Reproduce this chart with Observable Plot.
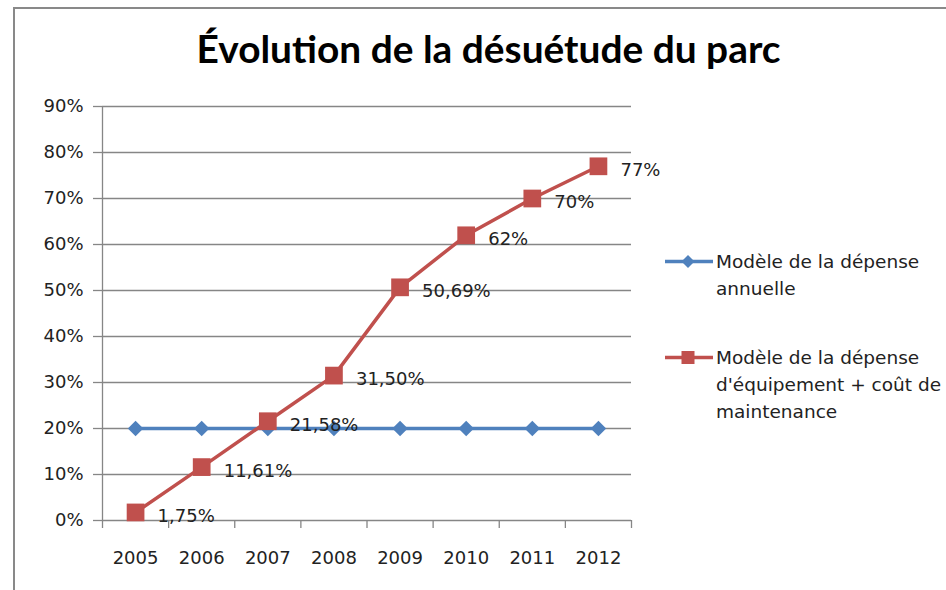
<!DOCTYPE html>
<html>
<head>
<meta charset="utf-8">
<script src="https://cdn.jsdelivr.net/npm/d3@7"></script>
<script src="https://cdn.jsdelivr.net/npm/@observablehq/plot@0.6"></script>
<style>
  body { margin: 0; background: #fff; }
  #wrap { position: relative; width: 946px; height: 590px; overflow: hidden; background: #fff; font-family: "DejaVu Sans", sans-serif; color: #222; }
  #frame { position: absolute; left: 13px; top: 7px; width: 1000px; height: 700px; border-top: 2px solid #898989; border-left: 2px solid #898989; }
  #title { position: absolute; left: 0; top: 26px; width: 977px; text-align: center; font-family: "Lato", sans-serif; font-weight: bold; font-size: 38px; line-height: 44px; color: #000; white-space: nowrap; }
  #title span { display: inline-block; transform-origin: center; }
  #chart { position: absolute; left: 0; top: 90px; }
  .leg { position: absolute; left: 664px; }
  .leg svg { position: absolute; left: 0; top: 0; }
  .leg div { position: absolute; left: 52px; top: 0; font-size: 18.5px; line-height: 27px; white-space: nowrap; color: #222; }
</style>
</head>
<body>
<div id="wrap">
  <div id="frame"></div>
  <div id="title"><span id="titleText"></span></div>
  <div id="chart"></div>
  <div id="legend"></div>
</div>
<script>
// ---- data ----
const titleText = "Évolution de la désuétude du parc";
const years = [2005, 2006, 2007, 2008, 2009, 2010, 2011, 2012];
const depenseAnnuelle = [0.20, 0.20, 0.20, 0.20, 0.20, 0.20, 0.20, 0.20];
const depenseEquipement = [0.0175, 0.1161, 0.2158, 0.3150, 0.5069, 0.62, 0.70, 0.77];
const equipementLabels = ["1,75%", "11,61%", "21,58%", "31,50%", "50,69%", "62%", "70%", "77%"];
const yTicks = [0, 0.1, 0.2, 0.3, 0.4, 0.5, 0.6, 0.7, 0.8, 0.9];
const yTickLabels = ["0%", "10%", "20%", "30%", "40%", "50%", "60%", "70%", "80%", "90%"];
const seriesNames = [
  ["Modèle de la dépense", "annuelle"],
  ["Modèle de la dépense", "d'équipement + coût de", "maintenance"]
];
const seriesColors = ["#4F81BD", "#C0504D"];

// ---- build ----
const rows = years.map((year, i) => ({
  year,
  annuelle: depenseAnnuelle[i],
  equipement: depenseEquipement[i],
  label: equipementLabels[i]
}));
const boundaries = d3.range(years.length + 1).map(i => years[0] - 0.5 + i);
const gridColor = "#868686";

const chart = Plot.plot({
  width: 946,
  height: 500,
  marginTop: 16,
  marginBottom: 70,
  marginLeft: 102,
  marginRight: 315,
  style: { fontFamily: "DejaVu Sans, sans-serif", fontSize: "18px", color: "#222", background: "transparent", overflow: "visible" },
  x: { domain: [boundaries[0], boundaries[boundaries.length - 1]] },
  y: { domain: [0, 0.9] },
  marks: [
    Plot.ruleY(yTicks, { stroke: gridColor, strokeWidth: 1.3 }),
    Plot.ruleX([boundaries[0]], { stroke: gridColor, strokeWidth: 1.3 }),
    Plot.axisY({ ticks: yTicks, tickFormat: (d, i) => yTickLabels[i], tickSize: 9, tickPadding: 10, stroke: gridColor, strokeWidth: 1.3, label: null, fill: "#222" }),
    Plot.axisX({ ticks: boundaries, tickFormat: () => "", tickSize: 8, stroke: gridColor, strokeWidth: 1.3, label: null }),
    Plot.axisX({ ticks: years, tickFormat: d => String(d), tickSize: 0, tickPadding: 31, label: null, fill: "#222" }),
    Plot.line(rows, { x: "year", y: "annuelle", stroke: seriesColors[0], strokeWidth: 3.5 }),
    Plot.dot(rows, { x: "year", y: "annuelle", symbol: "diamond2", r: 7, fill: seriesColors[0], stroke: "none" }),
    Plot.line(rows, { x: "year", y: "equipement", stroke: seriesColors[1], strokeWidth: 3.5 }),
    Plot.dot(rows, { x: "year", y: "equipement", symbol: "square", r: 10, fill: seriesColors[1], stroke: "none" }),
    Plot.text(rows, { x: "year", y: "equipement", text: "label", dx: 22, dy: 4, textAnchor: "start", fill: "#222", fontSize: 18 })
  ]
});
document.getElementById("chart").appendChild(chart);

// ---- title ----
const tt = document.getElementById("titleText");
tt.textContent = titleText;
const tw = tt.getBoundingClientRect().width;
tt.style.transform = `scaleX(${584 / tw})`;

// ---- legend ----
const legend = document.getElementById("legend");
const legTops = [248, 344];
seriesNames.forEach((lines, k) => {
  const el = document.createElement("div");
  el.className = "leg";
  el.style.top = legTops[k] + "px";
  const symbol = k === 0
    ? `<path d="M24,7 L30.5,13.5 L24,20 L17.5,13.5 Z" fill="${seriesColors[k]}"/>`
    : `<rect x="17.5" y="7" width="13" height="13" fill="${seriesColors[k]}"/>`;
  el.innerHTML = `<svg width="50" height="27"><line x1="1" x2="49" y1="13.5" y2="13.5" stroke="${seriesColors[k]}" stroke-width="3.5"/>${symbol}</svg>` +
    `<div>${lines.join("<br>")}</div>`;
  legend.appendChild(el);
});
</script>
</body>
</html>
